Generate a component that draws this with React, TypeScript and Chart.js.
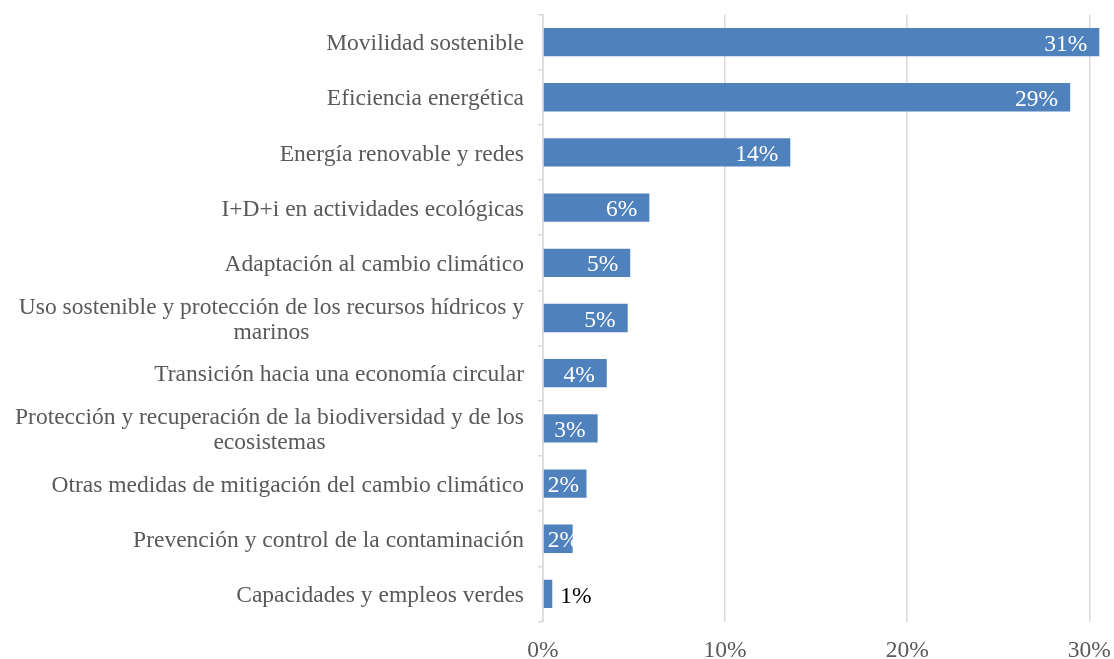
import React, { useEffect, useRef } from "react";
import { Chart, registerables } from "chart.js";

Chart.register(...registerables);

const categories: string[][] = [
  ["Movilidad sostenible"],
  ["Eficiencia energética"],
  ["Energía renovable y redes"],
  ["I+D+i en actividades ecológicas"],
  ["Adaptación al cambio climático"],
  ["Uso sostenible y protección de los recursos hídricos y", "marinos"],
  ["Transición hacia una economía circular"],
  ["Protección y recuperación de la biodiversidad y de los", "ecosistemas"],
  ["Otras medidas de mitigación del cambio climático"],
  ["Prevención y control de la contaminación"],
  ["Capacidades y empleos verdes"],
];

const values: number[] = [30.55, 28.95, 13.58, 5.84, 4.79, 4.65, 3.5, 3.0, 2.39, 1.63, 0.51];

const xTicks: number[] = [0, 10, 20, 30];

const FONT = "'Liberation Serif', 'Times New Roman', serif";
const FONT_SIZE = 23.5;
const TEXT_GRAY = "#595959";
const BAR_COLOR = "#4f81bd";
const GRID_COLOR = "#d9d9d9";

const yLabelPlugin = {
  id: "yLabels",
  afterDraw(chart: any) {
    const ctx = chart.ctx;
    const y = chart.scales.y;
    const right = chart.chartArea.left - 19;
    const lh = 25;
    ctx.save();
    ctx.font = `${FONT_SIZE}px ${FONT}`;
    ctx.fillStyle = TEXT_GRAY;
    ctx.textBaseline = "middle";
    ctx.textAlign = "center";
    categories.forEach((lines, i) => {
      const cy = y.getPixelForValue(i) + 2;
      const w = Math.max(...lines.map((l) => ctx.measureText(l).width));
      const cx = right - w / 2;
      const top = cy - ((lines.length - 1) * lh) / 2;
      lines.forEach((l, k) => ctx.fillText(l, cx, top + k * lh));
    });
    ctx.restore();
  },
};

const valueLabelPlugin = {
  id: "valueLabels",
  afterDatasetsDraw(chart: any) {
    const ctx = chart.ctx;
    const meta = chart.getDatasetMeta(0);
    ctx.save();
    ctx.font = `${FONT_SIZE}px ${FONT}`;
    ctx.textBaseline = "middle";
    ctx.textAlign = "left";
    meta.data.forEach((bar: any, i: number) => {
      const v = values[i];
      const text = Math.round(v) + "%";
      const w = ctx.measureText(text).width;
      if (v < 1) {
        ctx.fillStyle = "#000000";
        ctx.fillText(text, bar.x + 8, bar.y + 2.5);
      } else {
        ctx.fillStyle = "#ffffff";
        const x = Math.max(bar.x - 12 - w, bar.base + 4);
        ctx.fillText(text, x, bar.y + 2.5);
      }
    });
    ctx.restore();
  },
};

export default function App() {
  const ref = useRef<HTMLCanvasElement | null>(null);

  useEffect(() => {
    if (!ref.current) return;
    const chart = new Chart(ref.current, {
      type: "bar",
      data: {
        labels: categories.map((c) => c.join(" ")),
        datasets: [
          {
            data: values,
            backgroundColor: BAR_COLOR,
            borderWidth: 0,
            barPercentage: 0.513,
            categoryPercentage: 1,
          },
        ],
      },
      options: {
        indexAxis: "y",
        animation: false,
        responsive: false,
        maintainAspectRatio: false,
        layout: { padding: { top: 14.5, right: 6.5, bottom: 0, left: 0 } },
        plugins: {
          legend: { display: false },
          tooltip: { enabled: false },
        },
        scales: {
          x: {
            min: 0,
            max: 31,
            afterBuildTicks: (scale: any) => {
              scale.ticks = xTicks.map((v) => ({ value: v }));
            },
            afterFit: (scale: any) => {
              scale.height = 37.5;
              scale.paddingLeft = 0;
              scale.paddingRight = 0;
            },
            border: { display: false },
            grid: {
              color: GRID_COLOR,
              lineWidth: 1.5,
              drawTicks: false,
            },
            ticks: {
              padding: 15,
              color: TEXT_GRAY,
              font: { family: FONT, size: FONT_SIZE },
              callback: (v: any) => v + "%",
              maxRotation: 0,
            },
          },
          y: {
            afterFit: (scale: any) => {
              scale.width = 543;
              scale.paddingTop = 0;
              scale.paddingBottom = 0;
            },
            border: { display: true, color: GRID_COLOR, width: 1.5 },
            grid: {
              offset: true,
              drawOnChartArea: false,
              drawTicks: true,
              tickLength: 5,
              color: GRID_COLOR,
              lineWidth: 1.5,
            },
            ticks: { display: false },
          },
        },
      },
      plugins: [yLabelPlugin, valueLabelPlugin],
    });
    return () => chart.destroy();
  }, []);

  return (
    <div style={{ position: "absolute", left: 0, top: 0, width: 1114, height: 659, background: "#fff" }}>
      <canvas ref={ref} width={1114} height={659} style={{ display: "block" }} />
    </div>
  );
}
